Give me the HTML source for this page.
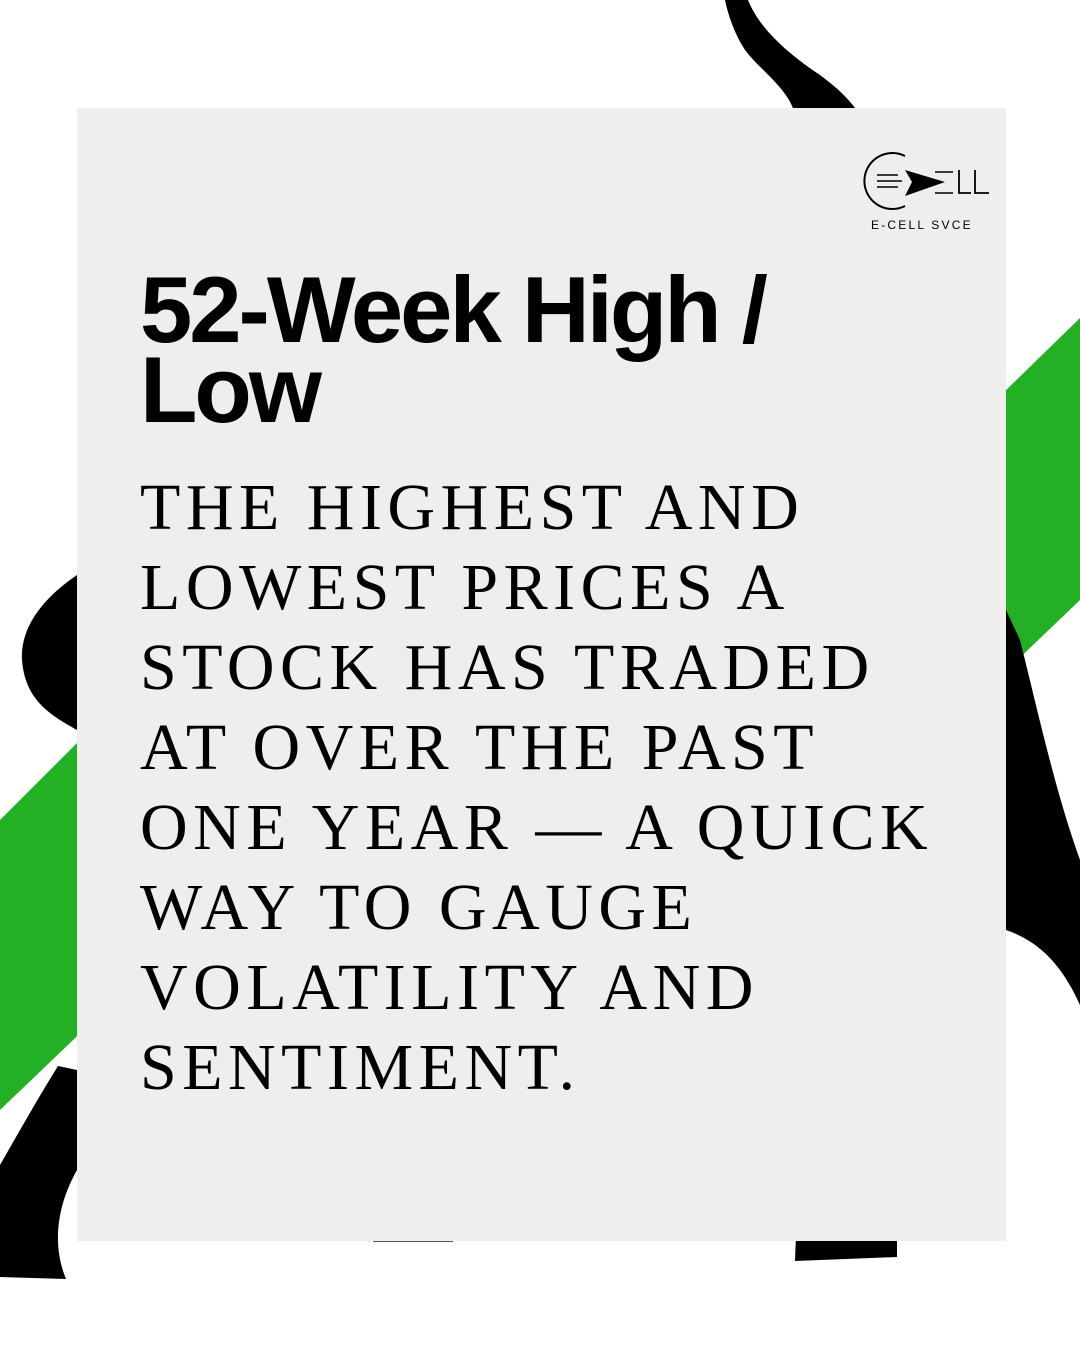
<!DOCTYPE html>
<html><head><meta charset="utf-8"><style>
html,body{margin:0;padding:0;}
body{width:1080px;height:1350px;position:relative;overflow:hidden;background:#fff;font-family:"Liberation Sans",sans-serif;}
svg.bg{position:absolute;left:0;top:0;}
.card{position:absolute;left:77px;top:108px;width:929px;height:1133px;background:#efeeec;}
.title{position:absolute;left:140px;top:270px;font-family:"Liberation Sans",sans-serif;font-weight:bold;font-size:94px;line-height:80px;letter-spacing:-3px;color:#000;white-space:nowrap;}
.body{position:absolute;left:140px;top:468px;font-family:"Liberation Serif",serif;font-size:66px;line-height:80px;letter-spacing:5.5px;color:#000;white-space:nowrap;}
.body div{height:80px;}
</style></head><body>
<svg class="bg" width="1080" height="1350">
<polygon points="0,820 120,700 120,995 0,1110" fill="#23b024"/>
<polygon points="960,435 1080,318 1080,600 960,715" fill="#23b024"/>
<path d="M725,0 L748,0 C760,30 790,55 820,75 C840,90 850,100 860,115 L795,115 C790,90 760,70 745,50 C735,35 728,15 725,0 Z" fill="#000"/>
<path d="M77,575 C40,600 20,630 22,660 C25,700 50,715 77,730 Z" fill="#000"/>
<path d="M1006,610 L1020,640 C1040,720 1055,790 1080,860 L1080,1005 C1060,960 1035,940 1006,930 Z" fill="#000"/>
<path d="M0,1165 C20,1130 40,1095 58,1066 L77,1070 L77,1170 C60,1200 50,1240 66,1279 L0,1277 Z" fill="#000"/>
<path d="M796,1235 L897,1235 L897,1257 L795,1261 Z" fill="#000"/>
<rect x="373" y="1240" width="80" height="2" fill="#555"/>
</svg>
<div class="card"></div>
<svg style="position:absolute;left:860px;top:150px" width="140" height="90">
<path d="M45,6 A28,28 0 1,0 45,56" fill="none" stroke="#000" stroke-width="2"/>
<line x1="17" y1="25" x2="38" y2="25" stroke="#000" stroke-width="1.5"/>
<line x1="17" y1="31" x2="42" y2="31" stroke="#000" stroke-width="1.5"/>
<line x1="17" y1="37" x2="38" y2="37" stroke="#000" stroke-width="1.5"/>
<polygon points="45,20 85,32 45,46 52,32" fill="#000"/>
<line x1="75" y1="22" x2="93" y2="22" stroke="#000" stroke-width="1.5"/>
<line x1="75" y1="43" x2="93" y2="43" stroke="#000" stroke-width="1.5"/>
<path d="M99,20 V43 H111 M115,20 V43 H129" fill="none" stroke="#000" stroke-width="1.8"/>
<text x="11" y="79" font-family="Liberation Sans,sans-serif" font-size="12" letter-spacing="2.2" fill="#000">E-CELL SVCE</text>
</svg>
<div class="title"><div>52-Week High /</div><div>Low</div></div>
<div class="body">
<div>THE HIGHEST AND</div>
<div>LOWEST PRICES A</div>
<div>STOCK HAS TRADED</div>
<div>AT OVER THE PAST</div>
<div>ONE YEAR — A QUICK</div>
<div>WAY TO GAUGE</div>
<div>VOLATILITY AND</div>
<div>SENTIMENT.</div>
</div>
</body></html>
